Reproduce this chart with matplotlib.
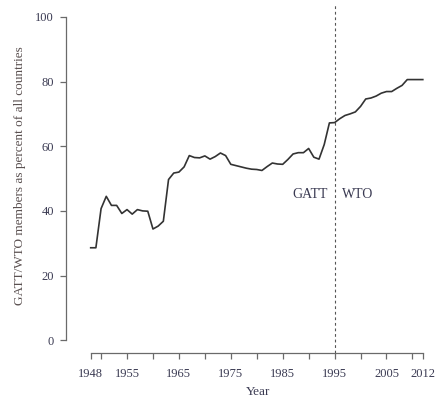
import matplotlib
matplotlib.use("Agg")
import matplotlib.pyplot as plt

years = list(range(1948, 2013))
share = [28.6, 28.6, 40.7, 44.5, 41.7, 41.7, 39.2, 40.4, 39.0, 40.4,
         40.0, 39.9, 34.4, 35.3, 36.8, 49.7, 51.7, 52.0, 53.6, 57.1,
         56.5, 56.4, 57.0, 56.0, 56.8, 57.9, 57.1, 54.4, 54.0, 53.6,
         53.2, 52.9, 52.8, 52.5, 53.7, 54.8, 54.5, 54.4, 55.9, 57.6,
         58.0, 58.0, 59.3, 56.6, 56.0, 60.5, 67.2, 67.3, 68.5, 69.5,
         70.0, 70.6, 72.3, 74.6, 74.9, 75.5, 76.4, 76.9, 76.9, 77.9,
         78.8, 80.6, 80.6, 80.6, 80.6]
xticks = [1948, 1950, 1955, 1960, 1965, 1970, 1975, 1980, 1985, 1990,
          1995, 2000, 2005, 2010, 2012]
xticklabels = ["1948", "", "1955", "", "1965", "", "1975", "", "1985", "",
               "1995", "", "2005", "", "2012"]
yticks = [0, 20, 40, 60, 80, 100]
split_year = 1995

txt = "#3a3a52"
axc = "#6a6a6a"
plt.rcParams['font.family'] = ['Liberation Serif', 'DejaVu Serif']

fig = plt.figure(figsize=(4.4, 4.03), dpi=100)
ax = fig.add_axes([65.7/440, (403-353.2)/403, (436-65.7)/440, (353.2-3.9)/403])
ax.plot(years, share, color="#333333", lw=1.2, solid_joinstyle="round")
ax.axvline(split_year, color="#555555", lw=0.8, ls=(0, (2.5, 2.5)))
ax.set_xlim(1948 - 25/5.19, 2012 + 13.2/5.19)
ax.set_ylim(-4, 104)

for s in ["top", "right"]:
    ax.spines[s].set_visible(False)
ax.spines["left"].set_bounds(0, 100)
ax.spines["bottom"].set_bounds(1948, 2012)
for s in ["left", "bottom"]:
    ax.spines[s].set_color(axc)
    ax.spines[s].set_linewidth(0.9)

ax.set_xticks(xticks)
ax.set_xticklabels(xticklabels)
ax.set_yticks(yticks)
ax.tick_params(axis="x", direction="out", length=4.5, width=0.9, color=axc,
               labelsize=9, labelcolor=txt, pad=6)
ax.tick_params(axis="y", direction="out", length=4.5, width=0.9, color=axc,
               labelsize=9, labelcolor=txt, pad=4)

ax.text(1993.6, 45, "GATT", ha="right", va="center", fontsize=10, color=txt)
ax.text(1996.4, 45, "WTO", ha="left", va="center", fontsize=10, color=txt)

fig.text(258/440, 1 - 392/403, "Year", ha="center", va="center", fontsize=9.5, color=txt)
fig.text(20.5/440, 1 - 176/403, "GATT/WTO members as percent of all countries",
         rotation=90, ha="center", va="center", fontsize=9.5, color="#5a5050")

fig.savefig("out.png", dpi=100)
